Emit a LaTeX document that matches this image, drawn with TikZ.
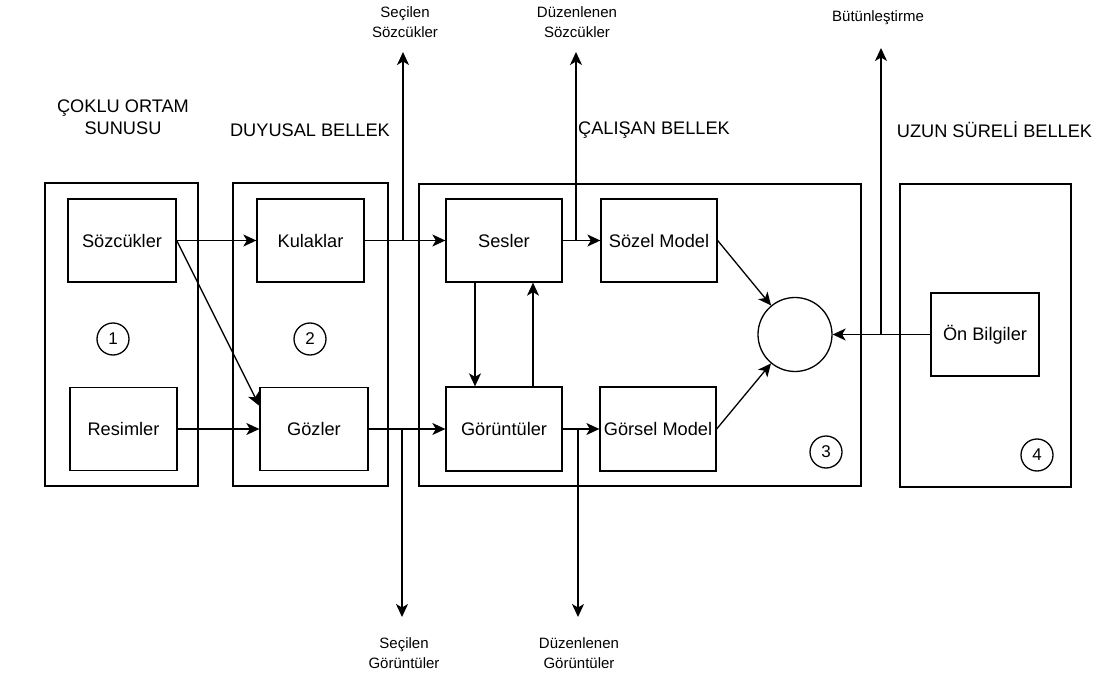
\documentclass[tikz,border=0pt]{standalone}
\usepackage{fontspec}
\setmainfont{Liberation Sans}
\usetikzlibrary{calc, arrows.meta}

\begin{document}
\begin{tikzpicture}[x=1pt, y=-1pt, line width=1.3pt, >={Stealth[length=13pt, width=12pt, inset=3.5pt]},
            alan/.style={draw},
            kutu/.style={draw, minimum width=108, minimum height=83, inner sep=2pt, font=\fontsize{18.2}{22}\selectfont},
            genis/.style={kutu, minimum width=116},
            sayi/.style={draw, circle, minimum size=32, inner sep=0pt, font=\fontsize{17}{20}\selectfont},
            baslik/.style={align=center, font=\fontsize{18.2}{22}\selectfont},
            etiket/.style={align=center, font=\fontsize{15}{19.5}\selectfont}]
            \useasboundingbox (0,0) rectangle (1103,679);
            \node[alan, minimum width=153, minimum height=303] (sunum) at (121.5,334.5) {};
            \node[alan, minimum width=155, minimum height=303] (duyusal) at (310.5,334.5) {};
            \node[alan, minimum width=442, minimum height=302] (calisan) at (640,335) {};
            \node[alan, minimum width=171, minimum height=303] (uzun) at (985.5,335.5) {};
            \node[baslik] (b1) at (123,117) {ÇOKLU ORTAM\\SUNUSU};
            \node[baslik] (b2) at (310,130) {DUYUSAL BELLEK};
            \node[baslik] (b3) at (654,130) {ÇALIŞAN BELLEK};
            \node[baslik] (b4) at (994.5,130) {UZUN SÜRELİ BELLEK};
            \node[kutu] (sozcukler) at (122,240.5) {Sözcükler};
            \node[kutu, minimum width=107] (resimler) at (123.5,429) {Resimler};
            \node[kutu, minimum width=107] (kulaklar) at (310.5,240.5) {Kulaklar};
            \node[kutu] (gozler) at (314,429) {Gözler};
            \node[genis] (sesler) at (504,240.5) {Sesler};
            \node[genis] (sozel) at (659,240.5) {Sözel Model};
            \node[genis, minimum height=84] (goruntuler) at (504,429) {Görüntüler};
            \node[genis, minimum height=84] (gorsel) at (658,429) {Görsel Model};
            \node[kutu] (onbilgi) at (985,334.5) {Ön Bilgiler};
            \node[draw, circle, minimum size=74] (birlesim) at (795,334.5) {};
            \node[sayi] (s1) at (113,339) {1};
            \node[sayi] (s2) at (310,339) {2};
            \node[sayi] (s3) at (826,452) {3};
            \node[sayi] (s4) at (1037,455) {4};
            \node[etiket] (secsoz) at (405,22) {Seçilen\\Sözcükler};
            \node[etiket] (duzsoz) at (577,22) {Düzenlenen\\Sözcükler};
            \node[etiket] (secgor) at (404,653) {Seçilen\\Görüntüler};
            \node[etiket] (duzgor) at (579,653) {Düzenlenen\\Görüntüler};
            \node[etiket] (butun) at (878,18) {Bütünleştirme};
            \coordinate (secsozuc) at (403,52);
            \coordinate (duzsozuc) at (576,52);
            \coordinate (secgoruc) at (402,617);
            \coordinate (duzgoruc) at (578,617);
            \coordinate (butunuc) at (881,48);
            \draw[->] (sozcukler) -- (kulaklar);
            \draw[->] (sozcukler.east) -- ($(gozler.north west)+(0,19)$);
            \draw[->] (resimler) -- (gozler);
            \draw[->] (kulaklar) -- (sesler);
            \draw[->] (secsozuc |- kulaklar.east) -- (secsozuc);
            \draw[->] (gozler) -- (goruntuler);
            \draw[->] (secgoruc |- gozler.east) -- (secgoruc);
            \draw[->] (sesler) -- (sozel);
            \draw[->] (duzsozuc |- sesler.east) -- (duzsozuc);
            \draw[->] (goruntuler) -- (gorsel);
            \draw[->] (duzgoruc |- goruntuler.east) -- (duzgoruc);
            \draw[->] ([xshift=-29]sesler.south) -- ([xshift=-29]goruntuler.north);
            \draw[->] ([xshift=29]goruntuler.north) -- ([xshift=29]sesler.south);
            \draw[->] (sozel.east) -- (birlesim);
            \draw[->] (gorsel.east) -- (birlesim);
            \draw[->] (onbilgi.west) -- (birlesim.east);
            \draw[->] (butunuc |- onbilgi.west) -- (butunuc);
        \end{tikzpicture}
\end{document}
